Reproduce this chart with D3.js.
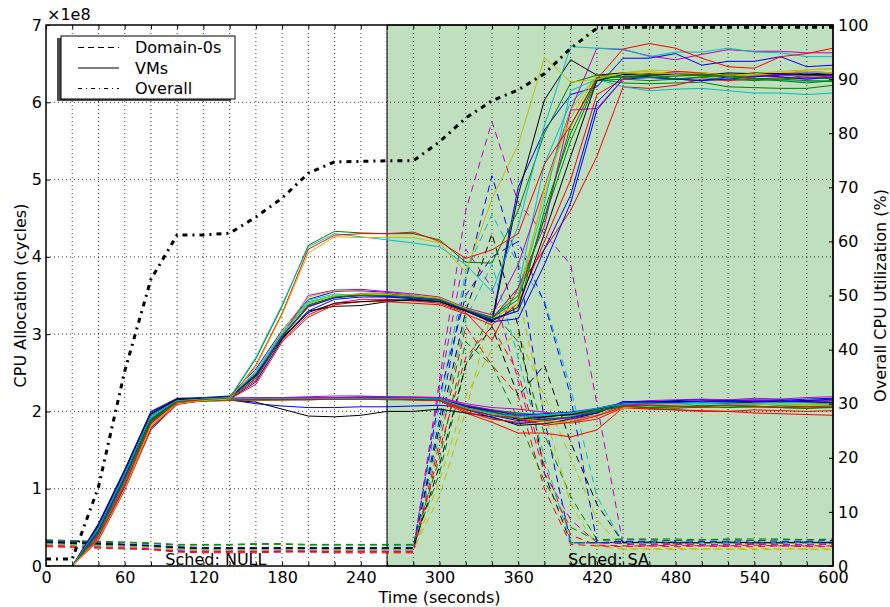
<!DOCTYPE html>
<html>
<head>
<meta charset="utf-8">
<script src="https://cdn.jsdelivr.net/npm/d3@7"></script>
<style>
  body { margin: 0; background: #fff; }
  svg text { font-family: "DejaVu Sans", sans-serif; font-size: 16px; fill: #000; }
</style>
</head>
<body>
<svg id="chart" width="890" height="607"></svg>
<script>
//#region Data
// sample times (seconds), one point every 20 s
const times = [0,20,40,60,80,100,120,140,160,180,200,220,240,260,280,300,320,340,360,380,400,420,440,460,480,500,520,540,560,580,600];

// overall CPU utilization (%), right axis
const overallUtil = [1.3,1.3,14.6,36,53,61.2,61.2,61.5,64.5,68,72.6,74.7,74.8,74.9,74.9,78.4,82.8,86,88,91,95.7,99.4,99.6,99.6,99.6,99.6,99.6,99.6,99.6,99.6,99.6];

// VM allocations, in 1e8 cycles
// VMs that climb to ~4.3e8 under NULL
const vmHigh = [
  [0,0,0.42,1.12,1.9,2.13,2.16,2.17,2.68,3.36,4.15,4.33,4.31,4.3,4.3,4.22,3.93,3.92,4.6,5.6,6.25,6.35,6.32,6.36,6.3,6.33,6.35,6.3,6.28,6.25,6.28],
  [0,0,0.5,1.2,1.95,2.14,2.16,2.18,2.7,3.38,4.13,4.3,4.26,4.22,4.18,4.13,3.9,3.55,4.4,5.7,6.72,6.7,6.69,6.59,6.65,6.65,6.7,6.65,6.64,6.59,6.59],
  [0,0,0.38,1.05,1.85,2.12,2.15,2.16,2.6,3.27,4.1,4.28,4.3,4.3,4.32,4.2,3.98,4.09,4.3,5.2,5.7,6.3,6.69,6.76,6.7,6.57,6.46,6.44,6.59,6.63,6.7],
  [0,0,0.35,1.0,1.8,2.1,2.14,2.16,2.58,3.25,4.05,4.26,4.25,4.25,4.25,4.18,3.8,4.75,5.45,6.58,6.26,6.3,6.38,6.4,6.36,6.38,6.35,6.37,6.4,6.42,6.43]
];

// VMs that climb to ~3.5e8 under NULL
const vmMid = [
  [0,0,0.55,1.25,2.0,2.17,2.18,2.2,2.55,3.05,3.45,3.55,3.56,3.54,3.5,3.46,3.33,3.18,4.9,5.64,6.1,6.2,6.57,6.57,6.63,6.48,6.53,6.53,6.59,6.46,6.48],
  [0,0,0.5,1.2,1.95,2.15,2.17,2.19,2.5,3.0,3.4,3.5,3.52,3.5,3.48,3.45,3.3,3.2,3.3,4.6,5.6,6.3,6.25,6.24,6.25,6.26,6.2,6.19,6.18,6.18,6.22],
  [0,0,0.45,1.15,1.9,2.14,2.16,2.17,2.4,2.92,3.25,3.4,3.45,3.45,3.43,3.4,3.28,2.92,3.6,4.1,4.6,5.3,6.2,6.18,6.22,6.3,6.28,6.3,6.32,6.3,6.33],
  [0,0,0.48,1.18,1.93,2.15,2.17,2.18,2.52,3.02,3.44,3.52,3.5,3.48,3.46,3.42,3.3,3.2,3.6,5.2,6.0,6.3,6.2,6.15,6.17,6.18,6.15,6.12,6.12,6.1,6.12],
  [0,0,0.42,1.1,1.85,2.13,2.16,2.18,2.45,2.98,3.5,3.57,3.58,3.55,3.52,3.48,3.34,3.25,3.9,4.9,5.9,6.7,6.68,6.6,6.55,6.62,6.68,6.66,6.66,6.64,6.64],
  [0,0,0.4,1.08,1.83,2.12,2.15,2.17,2.5,3.04,3.48,3.56,3.55,3.53,3.5,3.47,3.33,3.2,3.55,4.8,5.9,6.35,6.38,6.42,6.4,6.38,6.36,6.33,6.36,6.42,6.44],
  [0,0,0.52,1.22,1.97,2.16,2.17,2.19,2.48,2.95,3.3,3.36,3.37,3.42,3.45,3.42,3.3,3.15,4.8,6.03,6.55,6.35,6.38,6.37,6.36,6.35,6.38,6.37,6.36,6.35,6.35],
  [0,0,0.36,1.02,1.78,2.1,2.14,2.16,2.38,2.93,3.3,3.45,3.48,3.48,3.46,3.44,3.3,3.16,3.2,3.9,4.7,5.9,6.3,6.32,6.3,6.28,6.33,6.35,6.33,6.3,6.32],
  [0,0,0.44,1.13,1.88,2.14,2.16,2.18,2.46,2.97,3.38,3.48,3.5,3.5,3.48,3.45,3.32,3.22,3.5,4.5,5.5,6.28,6.3,6.28,6.3,6.32,6.3,6.28,6.3,6.33,6.3],
  [0,0,0.33,0.98,1.76,2.09,2.14,2.16,2.35,2.9,3.22,3.38,3.42,3.42,3.4,3.38,3.26,3.12,3.4,4.2,5.0,6.1,6.3,6.35,6.4,6.38,6.35,6.33,6.37,6.4,6.38],
  [0,0,0.47,1.17,1.92,2.15,2.17,2.18,2.5,3.0,3.42,3.5,3.5,3.5,3.47,3.44,3.31,3.2,3.5,4.7,6.15,6.3,6.33,6.32,6.34,6.36,6.33,6.3,6.28,6.27,6.28],
  [0,0,0.4,1.07,1.84,2.13,2.16,2.18,2.42,2.96,3.35,3.47,3.52,3.52,3.49,3.45,3.32,3.2,3.6,4.4,5.9,5.92,6.3,6.36,6.38,6.35,6.33,6.34,6.36,6.32,6.34],
  [0,0,0.38,1.05,1.82,2.12,2.15,2.17,2.44,2.99,3.4,3.5,3.52,3.51,3.49,3.46,3.33,3.2,3.4,4.9,5.8,6.34,6.36,6.38,6.36,6.37,6.34,6.35,6.38,6.4,6.38],
  [0,0,0.5,1.2,1.95,2.15,2.17,2.18,2.46,2.94,3.28,3.4,3.42,3.44,3.44,3.42,3.3,3.17,3.35,4.3,5.3,6.28,6.36,6.35,6.36,6.37,6.35,6.38,6.37,6.36,6.36],
  [0,0,0.46,1.15,1.9,2.14,2.16,2.18,2.47,2.98,3.36,3.47,3.5,3.49,3.47,3.44,3.31,3.19,3.3,4.1,4.8,6.0,6.34,6.33,6.3,6.28,6.3,6.33,6.35,6.38,6.36],
  [0,0,0.43,1.12,1.87,2.13,2.16,2.17,2.43,2.96,3.37,3.48,3.5,3.5,3.48,3.45,3.32,3.21,3.45,4.5,5.7,6.32,6.33,6.32,6.34,6.35,6.33,6.31,6.3,6.28,6.27]
];

// VMs that stay near 2.1e8
const vmFlat = [
  [0,0,0.54,1.24,1.99,2.16,2.17,2.15,2.1,2.07,2.05,2.05,2.06,2.06,2.07,2.08,2.05,1.95,1.88,1.9,1.92,2.0,2.1,2.12,2.13,2.12,2.14,2.15,2.14,2.16,2.17],
  [0,0,0.41,1.1,1.86,2.12,2.13,2.14,2.14,2.15,2.15,2.16,2.16,2.15,2.15,2.14,2.02,1.95,1.9,1.93,1.96,2.03,2.08,2.07,2.06,2.05,2.07,2.06,2.05,2.04,2.05],
  [0,0,0.37,1.04,1.82,2.11,2.14,2.15,2.15,2.15,2.16,2.16,2.16,2.16,2.15,2.14,1.98,1.86,1.72,1.72,1.67,1.76,2.05,2.04,2.02,2.0,2.0,1.98,1.97,1.96,1.95],
  [0,0,0.49,1.19,1.94,2.15,2.16,2.16,2.16,2.17,2.17,2.17,2.17,2.17,2.16,2.16,2.06,2.0,1.98,1.96,1.97,2.02,2.1,2.09,2.08,2.1,2.09,2.1,2.08,2.09,2.08],
  [0,0,0.44,1.13,1.88,2.14,2.17,2.17,2.18,2.18,2.19,2.2,2.2,2.19,2.19,2.18,2.1,2.05,2.03,1.99,1.95,2.0,2.12,2.14,2.15,2.16,2.15,2.17,2.16,2.18,2.19],
  [0,0,0.39,1.06,1.83,2.12,2.15,2.15,2.15,2.16,2.16,2.16,2.16,2.16,2.16,2.15,2.0,1.9,1.85,1.84,1.88,1.95,2.04,2.05,2.06,2.07,2.06,2.05,2.07,2.08,2.07],
  [0,0,0.51,1.21,1.96,2.16,2.16,2.15,2.12,2.03,1.94,1.93,1.95,2.0,2.0,2.03,1.98,1.93,1.82,1.84,1.9,1.98,2.1,2.11,2.12,2.13,2.12,2.13,2.12,2.13,2.12],
  [0,0,0.35,1.02,1.79,2.1,2.14,2.16,2.16,2.17,2.17,2.17,2.18,2.18,2.17,2.16,2.03,1.92,1.84,1.88,1.92,1.98,2.13,2.12,2.14,2.15,2.13,2.14,2.15,2.14,2.16],
  [0,0,0.46,1.15,1.9,2.14,2.16,2.15,2.16,2.16,2.16,2.16,2.17,2.17,2.16,2.15,2.08,2.02,1.98,1.94,1.96,2.01,2.06,2.05,2.06,2.08,2.07,2.06,2.05,2.04,2.06],
  [0,0,0.4,1.08,1.84,2.12,2.15,2.16,2.16,2.16,2.16,2.17,2.17,2.16,2.16,2.15,2.0,1.9,1.86,1.88,1.85,1.9,2.05,2.03,2.02,2.01,2.0,2.02,2.01,2.0,2.01],
  [0,0,0.47,1.16,1.91,2.15,2.16,2.16,2.16,2.17,2.17,2.17,2.17,2.17,2.16,2.15,2.04,1.98,1.93,1.95,1.98,2.03,2.09,2.1,2.1,2.11,2.1,2.09,2.1,2.09,2.1],
  [0,0,0.42,1.11,1.87,2.13,2.16,2.17,2.18,2.18,2.18,2.18,2.19,2.19,2.18,2.18,2.08,2.02,1.96,1.92,1.9,1.95,2.08,2.1,2.12,2.14,2.15,2.14,2.13,2.12,2.14],
  [0,0,0.38,1.05,1.82,2.12,2.15,2.15,2.15,2.15,2.16,2.16,2.16,2.16,2.16,2.15,2.04,1.97,1.91,1.87,1.85,1.96,2.05,2.07,2.08,2.06,2.07,2.08,2.1,2.09,2.1],
  [0,0,0.52,1.22,1.97,2.16,2.17,2.16,2.16,2.16,2.16,2.17,2.17,2.17,2.16,2.15,2.06,2.0,1.9,1.93,1.96,2.03,2.1,2.11,2.13,2.12,2.11,2.12,2.13,2.12,2.11],
  [0,0,0.45,1.14,1.89,2.14,2.16,2.16,2.17,2.17,2.17,2.17,2.17,2.17,2.17,2.16,2.07,2.01,1.95,1.97,1.99,2.04,2.11,2.13,2.12,2.13,2.14,2.13,2.12,2.14,2.15],
  [0,0,0.43,1.12,1.87,2.13,2.15,2.16,2.16,2.16,2.16,2.16,2.16,2.16,2.16,2.15,2.05,1.99,1.94,1.9,1.93,2.0,2.07,2.05,2.04,2.06,2.05,2.06,2.07,2.06,2.05],
  [0,0,0.36,1.03,1.8,2.11,2.14,2.15,2.15,2.15,2.15,2.16,2.16,2.16,2.15,2.14,2.03,1.95,1.92,1.82,1.86,1.94,2.06,2.08,2.07,2.06,2.08,2.07,2.05,2.06,2.07],
  [0,0,0.48,1.18,1.93,2.15,2.16,2.16,2.17,2.17,2.17,2.17,2.17,2.17,2.17,2.16,2.05,1.97,1.93,1.96,1.98,2.04,2.1,2.11,2.1,2.12,2.11,2.1,2.12,2.11,2.1]
];

// Domain-0 allocations, in 1e8 cycles
const domain0 = [
  [0.31,0.3,0.29,0.27,0.26,0.23,0.22,0.22,0.22,0.22,0.23,0.22,0.22,0.22,0.22,1.9,3.7,5.05,3.9,1.9,0.3,0.3,0.31,0.3,0.31,0.3,0.3,0.31,0.3,0.3,0.31],
  [0.33,0.32,0.31,0.3,0.29,0.27,0.27,0.27,0.28,0.28,0.27,0.27,0.27,0.27,0.27,1.2,2.6,3.3,2.9,1.7,0.9,0.34,0.35,0.35,0.35,0.34,0.35,0.35,0.35,0.34,0.35],
  [0.26,0.25,0.24,0.23,0.22,0.19,0.18,0.18,0.18,0.19,0.19,0.18,0.18,0.18,0.18,1.6,3.1,2.6,2.2,1.0,0.28,0.26,0.25,0.26,0.25,0.26,0.25,0.25,0.26,0.25,0.25],
  [0.3,0.29,0.28,0.27,0.25,0.22,0.21,0.21,0.22,0.22,0.22,0.21,0.21,0.21,0.21,2.1,3.8,4.55,3.9,3.44,2.3,0.9,0.3,0.3,0.31,0.3,0.3,0.3,0.31,0.3,0.3],
  [0.28,0.27,0.26,0.25,0.23,0.2,0.19,0.19,0.19,0.2,0.2,0.19,0.19,0.19,0.19,2.4,4.6,5.75,4.7,4.3,3.9,2.1,0.28,0.27,0.28,0.27,0.27,0.28,0.27,0.27,0.28],
  [0.27,0.26,0.25,0.24,0.23,0.21,0.2,0.2,0.2,0.21,0.21,0.2,0.2,0.2,0.2,1.1,2.2,2.8,3.0,2.2,1.4,0.6,0.22,0.22,0.21,0.22,0.22,0.21,0.22,0.22,0.21],
  [0.3,0.29,0.28,0.27,0.26,0.23,0.22,0.22,0.23,0.23,0.23,0.22,0.22,0.22,0.22,1.8,3.3,4.3,3.1,1.2,0.3,0.3,0.31,0.3,0.3,0.31,0.3,0.3,0.3,0.31,0.3],
  [0.32,0.31,0.3,0.28,0.27,0.25,0.24,0.24,0.24,0.24,0.24,0.24,0.24,0.24,0.24,2.2,3.5,4.0,4.2,3.4,2.2,0.3,0.32,0.32,0.33,0.32,0.32,0.33,0.32,0.32,0.33],
  [0.34,0.33,0.32,0.31,0.3,0.28,0.28,0.28,0.29,0.29,0.28,0.28,0.28,0.28,0.28,1.4,2.9,2.6,1.9,1.1,0.5,0.33,0.34,0.34,0.33,0.34,0.34,0.33,0.34,0.34,0.34],
  [0.25,0.24,0.23,0.22,0.21,0.18,0.17,0.17,0.17,0.18,0.18,0.17,0.17,0.17,0.17,1.5,2.7,3.1,2.5,1.3,0.4,0.27,0.26,0.26,0.27,0.26,0.26,0.27,0.26,0.26,0.26],
  [0.29,0.28,0.27,0.26,0.25,0.22,0.21,0.21,0.21,0.22,0.22,0.21,0.21,0.21,0.21,1.7,3.2,3.9,2.7,1.4,0.3,0.29,0.3,0.3,0.29,0.3,0.3,0.29,0.3,0.3,0.29],
  [0.27,0.26,0.25,0.24,0.22,0.19,0.19,0.19,0.19,0.19,0.19,0.19,0.19,0.19,0.19,2.3,4.1,3.6,2.4,1.2,0.6,0.3,0.29,0.28,0.29,0.28,0.28,0.29,0.28,0.28,0.29],
  [0.28,0.27,0.26,0.25,0.24,0.22,0.21,0.21,0.21,0.21,0.21,0.21,0.21,0.21,0.21,0.9,2.0,3.3,3.5,2.0,0.8,0.25,0.22,0.22,0.23,0.22,0.22,0.23,0.22,0.22,0.22],
  [0.31,0.3,0.29,0.28,0.26,0.24,0.23,0.23,0.23,0.23,0.23,0.23,0.23,0.23,0.23,1.3,2.6,3.1,2.2,2.6,1.6,0.8,0.3,0.31,0.3,0.3,0.31,0.3,0.3,0.31,0.3]
];

const xTickLabels = [0,60,120,180,240,300,360,420,480,540,600];
const yTicksLeft = [0,1,2,3,4,5,6,7];
const yTicksRight = [0,10,20,30,40,50,60,70,80,90,100];
const saStart = 260;   // scheduler switches from NULL to SA here
const schedLabels = [{ text: "Sched: NULL", t: 91 }, { text: "Sched: SA", t: 398 }];
//#endregion

//#region Setup
const svg = d3.select("svg#chart");
const pLeft = 46, pRight = 833, pTop = 25, pBottom = 566;

const xScale = d3.scaleLinear().domain([0, 600]).range([pLeft, pRight]);
const yScale = d3.scaleLinear().domain([0, 7]).range([pBottom, pTop]);
const y2Scale = d3.scaleLinear().domain([0, 100]).range([pBottom, pTop]);

// matplotlib classic colour cycle
const colors = { b: "#0000ff", g: "#008000", r: "#ff0000", c: "#00bfbf", m: "#bf00bf", y: "#bfbf00", k: "#000000" };
const cycle = "bgrcmyk";

svg.append("defs").append("clipPath").attr("id", "plotClip")
    .append("rect").attr("x", pLeft).attr("y", pTop).attr("width", pRight - pLeft).attr("height", pBottom - pTop);
//#endregion

// Shaded SA region
svg.append("rect")
    .attr("x", xScale(saStart)).attr("y", pTop)
    .attr("width", xScale(600) - xScale(saStart)).attr("height", pBottom - pTop)
    .attr("fill", "rgb(191,223,191)")
    .attr("stroke", "#000").attr("stroke-width", 1);

// Dotted grid
const grid = svg.append("g").attr("stroke", "#000").attr("stroke-width", 0.8).attr("stroke-dasharray", "1,3");
grid.selectAll(".vgrid").data(times.slice(1, -1)).enter().append("line")
    .attr("x1", d => xScale(d)).attr("x2", d => xScale(d))
    .attr("y1", pTop).attr("y2", pBottom);
grid.selectAll(".hgrid").data(yTicksLeft.slice(1, -1)).enter().append("line")
    .attr("x1", pLeft).attr("x2", pRight)
    .attr("y1", d => yScale(d)).attr("y2", d => yScale(d));

// Series
const plot = svg.append("g").attr("clip-path", "url(#plotClip)").attr("fill", "none");
const line = d3.line().x((d, i) => xScale(times[i])).y(d => yScale(d));

plot.selectAll(".dom0").data(domain0).enter().append("path")
    .attr("d", line)
    .attr("stroke", (d, i) => colors[cycle[i % 7]])
    .attr("stroke-width", 1)
    .attr("stroke-dasharray", "7,5");

const vmGroups = [[vmFlat, 0], [vmMid, 0], [vmHigh, null]];
const highColors = "gcry";
vmGroups.forEach(([group, offset]) => {
    plot.append("g").selectAll("path").data(group).enter().append("path")
        .attr("d", line)
        .attr("stroke", (d, i) => offset === null ? colors[highColors[i]] : colors[cycle[(i + offset) % 7]])
        .attr("stroke-width", 1);
});

// Overall utilization on right axis
const line2 = d3.line().x((d, i) => xScale(times[i])).y(d => y2Scale(d));
plot.append("path").datum(overallUtil)
    .attr("d", line2)
    .attr("stroke", "#000").attr("stroke-width", 3)
    .attr("stroke-dasharray", "5,5,2,5");

// Axes (ticks pointing inwards)
const xAxis = d3.axisBottom(xScale).tickValues(times).tickSize(-4).tickPadding(6)
    .tickFormat(d => xTickLabels.includes(d) ? d : "");
svg.append("g").attr("transform", `translate(0,${pBottom})`).call(xAxis);
svg.append("g").attr("transform", `translate(0,${pTop})`)
    .call(d3.axisTop(xScale).tickValues(times).tickSize(-4).tickFormat(""));
svg.append("g").attr("transform", `translate(${pLeft},0)`)
    .call(d3.axisLeft(yScale).tickValues(yTicksLeft).tickSize(-4).tickPadding(4).tickFormat(d3.format("d")));
svg.append("g").attr("transform", `translate(${pRight},0)`)
    .call(d3.axisRight(y2Scale).tickValues(yTicksRight).tickSize(-4).tickPadding(5).tickFormat(d3.format("d")));
svg.selectAll(".domain").remove();
svg.selectAll(".tick line").attr("stroke", "#000").attr("stroke-width", 1);
svg.selectAll(".tick text").attr("font-size", 16).attr("font-family", "DejaVu Sans, sans-serif").attr("fill", "#000");

// Frame
svg.append("rect")
    .attr("x", pLeft).attr("y", pTop).attr("width", pRight - pLeft).attr("height", pBottom - pTop)
    .attr("fill", "none").attr("stroke", "#000").attr("stroke-width", 1.5);

// Text
svg.append("text").attr("x", pLeft + 1).attr("y", 20).text("×1e8");
svg.append("text").attr("x", xScale(300)).attr("y", 603).attr("text-anchor", "middle").text("Time (seconds)");
svg.append("text").attr("transform", `translate(26,${(pTop + pBottom) / 2}) rotate(-90)`)
    .attr("text-anchor", "middle").text("CPU Allocation (cycles)");
svg.append("text").attr("transform", `translate(886,${(pTop + pBottom) / 2}) rotate(-90)`)
    .attr("text-anchor", "middle").text("Overall CPU Utilization (%)");
svg.selectAll(".sched").data(schedLabels).enter().append("text")
    .attr("x", d => xScale(d.t)).attr("y", pBottom - 1).text(d => d.text);

// Legend
const legendItems = [
    { label: "Domain-0s", dash: "6,4" },
    { label: "VMs", dash: null },
    { label: "Overall", dash: "4,4,1,4" }
];
const legend = svg.append("g").attr("transform", "translate(61,36)");
legend.append("rect").attr("x", -4).attr("y", 2).attr("width", 174).attr("height", 63).attr("fill", "#4d4d4d");
legend.append("rect").attr("width", 174).attr("height", 63).attr("fill", "#fff").attr("stroke", "#000").attr("stroke-width", 1);
const rows = legend.selectAll(".item").data(legendItems).enter().append("g")
    .attr("transform", (d, i) => `translate(0,${11.5 + i * 20.5})`);
rows.append("line").attr("x1", 17).attr("x2", 58)
    .attr("stroke", "#000").attr("stroke-width", 1)
    .attr("stroke-dasharray", d => d.dash);
rows.append("text").attr("x", 74).attr("dy", "0.36em").text(d => d.label);
</script>
</body>
</html>
